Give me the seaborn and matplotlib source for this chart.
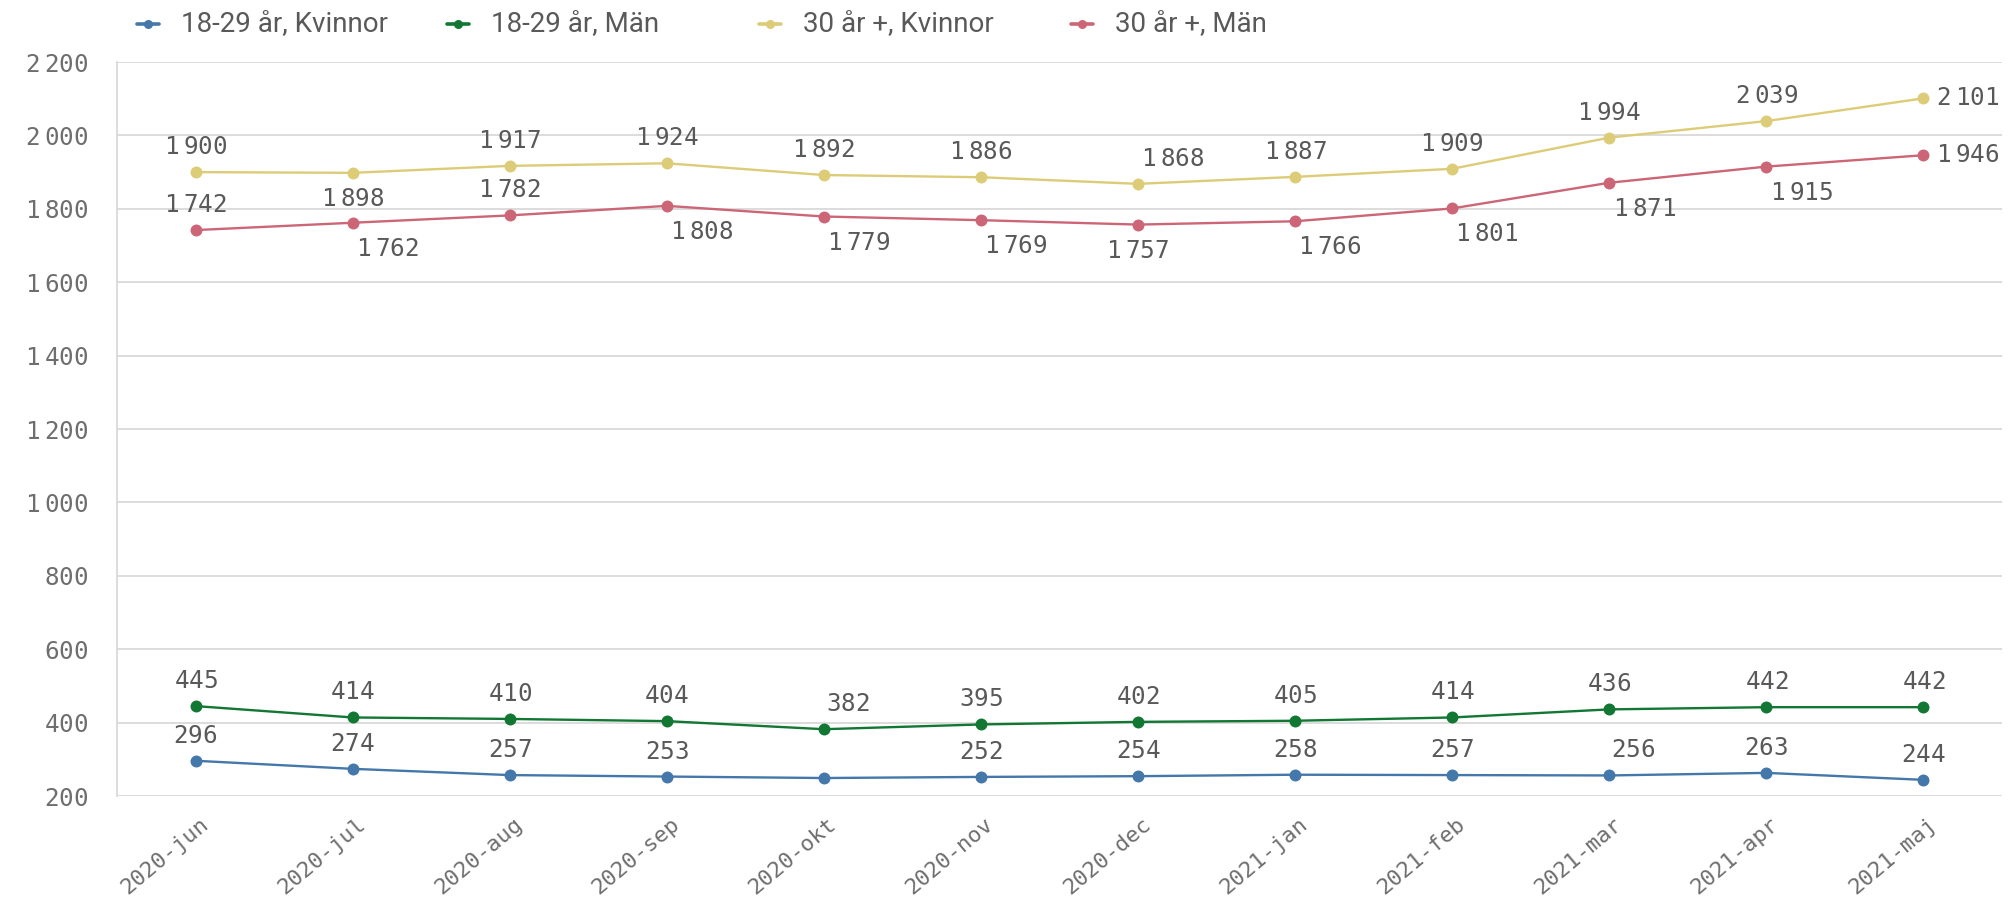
import numpy as np
import pandas as pd
import matplotlib
matplotlib.use("Agg")
import matplotlib.pyplot as plt
import seaborn as sns
from matplotlib.lines import Line2D
from matplotlib.transforms import ScaledTranslation
from matplotlib.ticker import FuncFormatter, FixedLocator

# ---------------- data ----------------
months = ["2020-jun", "2020-jul", "2020-aug", "2020-sep", "2020-okt", "2020-nov",
          "2020-dec", "2021-jan", "2021-feb", "2021-mar", "2021-apr", "2021-maj"]
series_names = ["18-29 år, Kvinnor", "18-29 år, Män", "30 år +, Kvinnor", "30 år +, Män"]
young_women = [296, 274, 257, 253, 249, 252, 254, 258, 257, 256, 263, 244]
young_men = [445, 414, 410, 404, 382, 395, 402, 405, 414, 436, 442, 442]
older_women = [1900, 1898, 1917, 1924, 1892, 1886, 1868, 1887, 1909, 1994, 2039, 2101]
older_men = [1742, 1762, 1782, 1808, 1779, 1769, 1757, 1766, 1801, 1871, 1915, 1946]
y_ticks = [200, 400, 600, 800, 1000, 1200, 1400, 1600, 1800, 2000, 2200]

# label placement per point (style only)
place_young_women = ["a", "a", "a", "a", None, "a", "a", "a", "a", "as", "a", "a"]
place_young_men = ["a", "a", "a", "a", "as", "a", "a", "a", "a", "a", "a", "a"]
place_older_women = ["a", "b", "a", "a", "a", "a", "ar", "a", "a", "a", "a", "r"]
place_older_men = ["a", "br", "a", "br", "br", "br", "b", "br", "br", "br", "br", "r"]

colors = ["#4477aa", "#117733", "#ddcc77", "#cc6677"]

values = [young_women, young_men, older_women, older_men]
places = [place_young_women, place_young_men, place_older_women, place_older_men]

df = pd.DataFrame({
    "x": np.tile(np.arange(len(months)), len(series_names)),
    "value": np.concatenate(values),
    "series": np.repeat(series_names, len(months)),
})

# ---------------- style ----------------
sns.set_theme(style="white")
plt.rcParams["font.family"] = ["DejaVu Sans Mono", "DejaVu Sans"]
plt.rcParams["mathtext.fontset"] = "custom"
plt.rcParams["mathtext.rm"] = "DejaVu Sans Mono"
plt.rcParams["mathtext.it"] = "DejaVu Sans Mono"
plt.rcParams["mathtext.bf"] = "DejaVu Sans Mono"
plt.rcParams["mathtext.default"] = "rm"

W, H = 2013, 906
fig = plt.figure(figsize=(W / 100, H / 100), dpi=100)
fig.patch.set_facecolor("white")
ax = fig.add_axes([117 / W, 1 - 796 / H, (2002 - 117) / W, (796 - 62) / H])

grid_col = "#d6d6d6"
text_col = "#595959"
tick_col = "#6e6e6e"

sns.lineplot(data=df, x="x", y="value", hue="series", hue_order=series_names,
             palette=colors, marker="o", markersize=8.6, markeredgewidth=0,
             linewidth=1.7, legend=False, ax=ax, zorder=3)


def fmt(v):
    s = f"{int(v):,}".replace(",", r"\hspace{0.32}")
    return f"${s}$"


offsets = {
    "a": (0, 25, "center"),
    "b": (0, -26, "center"),
    "br": (35, -26, "center"),
    "ar": (35, 25, "center"),
    "as": (24, 25, "center"),
    "r": (13, 0, "left"),
}

for vals, pl in zip(values, places):
    for i, (v, p) in enumerate(zip(vals, pl)):
        if p is None:
            continue
        dx, dy, ha = offsets[p]
        ax.annotate(fmt(v), xy=(i, v), xytext=(dx, dy), textcoords="offset pixels",
                    ha=ha, va="center", fontsize=17.5, color=text_col, zorder=5)

# axes
ax.set_xlim(-0.5, 11.5)
ax.set_ylim(200, 2200)
ax.yaxis.set_major_locator(FixedLocator(y_ticks))
ax.yaxis.set_major_formatter(FuncFormatter(lambda v, p: fmt(v)))
ax.yaxis.grid(True, color=grid_col, linewidth=1.2, zorder=0)
ax.xaxis.grid(False)
for s in ["top", "right", "bottom"]:
    ax.spines[s].set_visible(False)
ax.spines["left"].set_color(grid_col)
ax.spines["left"].set_linewidth(1.2)
ax.tick_params(axis="y", length=14.4, width=1.2, color=grid_col, pad=6.5,
               labelsize=17.5, labelcolor=tick_col)
ax.set_xlabel("")
ax.set_ylabel("")

ax.set_xticks(range(len(months)))
ax.set_xticklabels(months, rotation=40, ha="right", va="center",
                   rotation_mode="anchor", fontsize=16, color=tick_col)
ax.tick_params(axis="x", length=0, pad=18.5)
shift = ScaledTranslation(10 / 100, 0, fig.dpi_scale_trans)
for lab in ax.get_xticklabels():
    lab.set_transform(lab.get_transform() + shift)

# legend (manual, fixed column positions)
leg_x = [148, 458, 770, 1082]
leg_y = 24
for name, col, lx in zip(series_names, colors, leg_x):
    fig.add_artist(Line2D([(lx - 11) / W, (lx + 11) / W], [1 - leg_y / H] * 2,
                          transform=fig.transFigure, color=col, lw=2.6))
    fig.add_artist(Line2D([lx / W], [1 - leg_y / H], transform=fig.transFigure,
                          color=col, marker="o", markersize=6.5, markeredgewidth=0))
    fig.text((lx + 33) / W, 1 - leg_y / H, name, ha="left", va="center",
             fontsize=20, family=["Roboto", "DejaVu Sans"], color=text_col)

fig.savefig("out.png", dpi=100, facecolor="white")
